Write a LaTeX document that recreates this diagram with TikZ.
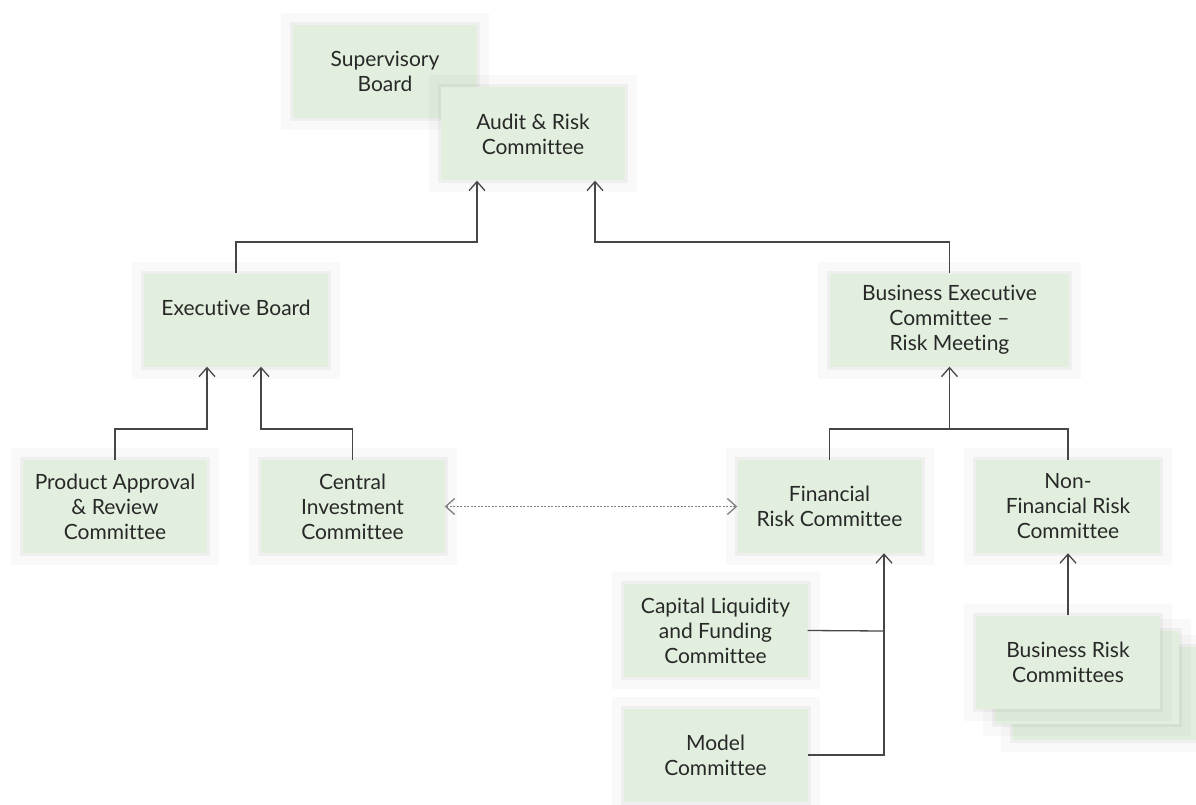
\documentclass[tikz,border=0pt]{standalone}
\usepackage{fontspec}
\setmainfont{Lato}[Ligatures={NoCommon}]
\usetikzlibrary{arrows.meta}
\definecolor{boxgreen}{RGB}{226,239,222}
\definecolor{linegray}{RGB}{70,70,70}
\definecolor{textgray}{RGB}{40,40,40}

\tikzset{
  box/.style={fill=boxgreen, minimum width=184, minimum height=93,
    inner sep=0, align=center, text=textgray, font=\fontsize{21}{25}\selectfont,
    preaction={draw=black, draw opacity=0.022, line width=24},
    preaction={draw=black, draw opacity=0.04, line width=6}},
  link/.style={draw=linegray, line width=1.3},
  arr/.style={link, -{Straight Barb[length=9,width=16]}},
  dotarr/.style={link, draw=gray, dash pattern=on 2 off 1.5,
    {Straight Barb[length=9,width=16]}-{Straight Barb[length=9,width=16]}},
}

\begin{document}
\begin{tikzpicture}[x=1pt, y=-1pt]
\useasboundingbox (0,0) rectangle (1196,805);

% 董事会
\node[box] (sup) at (385,71.5) {Supervisory\\Board};
\node[box] (audit) at (533,134) {Audit \& Risk\\Committee};

% 第二层
\node[box] (exec) at (236,320) {Executive Board\\\mbox{}};
\node[box, minimum width=239] (bexec) at (949.5,320) {Business Executive\\Committee --\\Risk Meeting};

% 第三层
\node[box] (prod) at (115,506.5) {Product Approval\\\& Review\\Committee};
\node[box] (cinv) at (352.5,506.5) {Central\\Investment\\Committee};
\node[box] (fin) at (829.5,506.5) {Financial\\Risk Committee};
\node[box] (nonfin) at (1068,506.5) {Non-\\Financial Risk\\Committee};

% 下层委员会
\node[box] (clf) at (715.5,630.5) {Capital Liquidity\\and Funding\\Committee};
\node[box] (model) at (715.5,755) {Model\\Committee};
\node[box] (brc3) at (1105,693) {};
\node[box] (brc2) at (1087,677) {};
\node[box] (brc) at (1068,662) {Business Risk\\Committees};

% 连线
\coordinate (ja) at (477,242);
\coordinate (jb) at (595,242);
\draw[arr] (exec.north) |- (ja) -- (ja |- audit.south);
\draw[arr] (bexec.north) |- (jb) -- (jb |- audit.south);

\coordinate (jc) at (207,429);
\coordinate (jd) at (261,429);
\draw[arr] (prod.north) |- (jc) -- (jc |- exec.south);
\draw[arr] (cinv.north) |- (jd) -- (jd |- exec.south);

\coordinate (je) at (949.5,429);
\draw[link] (fin.north) |- (je) -| (nonfin.north);
\draw[arr] (je) -- (bexec.south);

\coordinate (jf) at (884,631);
\draw[link] (clf.east) -- (jf);
\draw[arr] (model.east) -| (jf) -- (jf |- fin.south);

\draw[arr] (brc.north) -- (nonfin.south);
\draw[dotarr] (cinv.east) -- (fin.west);
\end{tikzpicture}
\end{document}
